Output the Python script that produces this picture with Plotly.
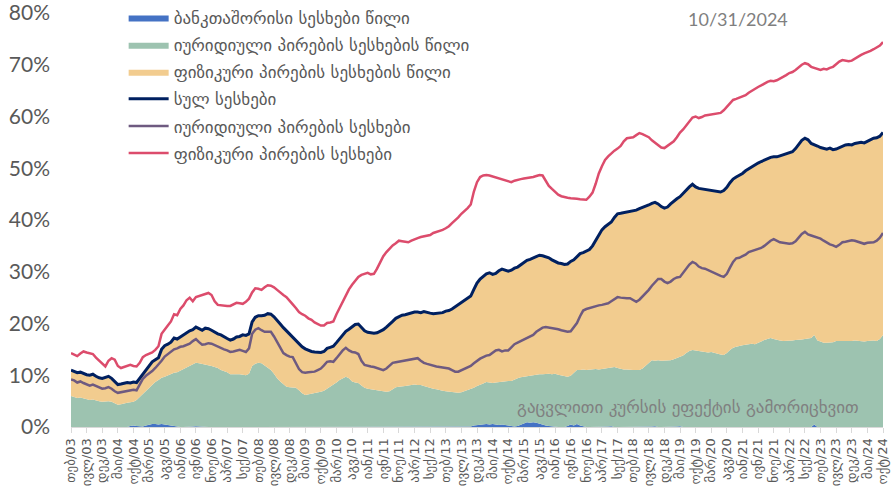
import plotly.graph_objects as go

month_abbr = ["იან", "თებ", "მარ", "აპრ", "მაი", "ივნ", "ივლ", "აგვ", "სექ", "ოქტ", "ნოე", "დეკ"]
# monthly categories Feb-2003 .. Oct-2024
months = []
for y in range(2003, 2025):
    for m in range(1, 13):
        if (y == 2003 and m < 2) or (y == 2024 and m > 10):
            continue
        months.append(f"{month_abbr[m-1]}/{str(y)[2:]}")

# share of interbank loans (blue area)
interbank_share = [
    0, 0, 0, 0, 0, 0, 0, 0, 0, 0, 0,
    0, 0, 0, 0, 0, 0, 0, 0, 0.2, 0.3, 0.2, 0.1,
    0.1, 0.3, 0.5, 0.6, 0.6, 0.5, 0.6, 0.5, 0.4, 0.3, 0.1, 0,
    0, 0, 0, 0, 0.1, 0.15, 0.1, 0, 0, 0, 0, 0,
    0, 0, 0, 0, 0, 0, 0, 0, 0, 0, 0, 0,
    0, 0, 0, 0, 0, 0, 0, 0, 0, 0, 0, 0,
    0, 0, 0, 0, 0, 0, 0, 0, 0, 0, 0, 0,
    0, 0, 0, 0, 0, 0, 0, 0, 0, 0, 0, 0,
    0, 0, 0, 0, 0, 0, 0, 0, 0, 0, 0, 0,
    0, 0, 0, 0, 0, 0, 0, 0, 0, 0, 0, 0,
    0, 0, 0, 0, 0, 0, 0, 0, 0, 0.1, 0.3, 0.4,
    0.5, 0.6, 0.6, 0.5, 0.6, 0.5, 0.4, 0.5, 0.4, 0.3, 0.2, 0.1,
    0.2, 0.4, 0.7, 0.9, 0.8, 0.9, 0.8, 0.6, 0.4, 0.3, 0.2, 0.1,
    0, 0, 0, 0, 0.2, 0.5, 0.3, 0.6, 0.3, 0.1, 0, 0,
    0, 0, 0, 0, 0, 0.1, 0.15, 0, 0, 0, 0, 0,
    0, 0, 0, 0, 0, 0, 0, 0.1, 0.15, 0, 0, 0,
    0, 0, 0, 0.1, 0.15, 0, 0, 0, 0, 0, 0, 0,
    0, 0, 0, 0, 0, 0, 0, 0, 0, 0, 0, 0,
    0, 0, 0, 0, 0, 0, 0, 0, 0, 0, 0, 0,
    0, 0, 0, 0, 0, 0, 0, 0, 0, 0, 0, 0.5,
    0, 0, 0, 0, 0, 0, 0, 0, 0, 0, 0, 0,
    0, 0, 0, 0, 0, 0, 0, 0, 0, 0,
]

# top of the legal-entity share area (green)
legal_share = [
    6.0, 5.8, 5.6, 5.7, 5.5, 5.3, 5.2, 5.3, 5.1, 5.0, 4.9,
    5.0, 5.0, 4.9, 4.6, 4.3, 4.4, 4.6, 4.7, 4.8, 4.9, 5.2, 5.8,
    6.5, 7.1, 7.7, 8.3, 8.7, 9.1, 9.5, 9.7, 10.0, 10.3, 10.5, 10.6,
    10.9, 11.2, 11.5, 11.8, 12.1, 12.4, 12.3, 12.2, 12.1, 12.0, 11.8, 11.6,
    11.4, 11.0, 10.8, 10.6, 10.2, 10.2, 10.3, 10.2, 10.1, 10.0, 10.3, 11.8,
    12.2, 12.4, 12.3, 11.9, 11.4, 11.0, 10.3, 9.4, 8.8, 8.2, 7.8, 7.7,
    7.7, 7.6, 7.1, 6.5, 6.2, 6.3, 6.5, 6.6, 6.6, 6.8, 7.0, 7.4,
    7.7, 8.1, 8.6, 9.1, 9.4, 9.7, 9.4, 8.8, 8.6, 8.5, 8.0, 7.6,
    7.4, 7.3, 7.2, 7.1, 7.0, 6.9, 6.8, 6.9, 7.3, 7.7, 7.8, 7.8,
    7.9, 8.0, 8.1, 8.2, 8.1, 8.1, 7.9, 7.7, 7.5, 7.4, 7.3, 7.1,
    7.0, 6.9, 6.8, 6.8, 6.7, 6.6, 6.7, 6.9, 7.1, 7.3, 7.6, 7.9,
    8.1, 8.4, 8.7, 8.6, 8.5, 8.6, 8.7, 8.8, 8.8, 8.9, 8.9, 9.2,
    9.4, 9.6, 9.7, 9.9, 10.0, 10.1, 10.1, 10.2, 10.2, 10.3, 10.3, 10.2,
    10.3, 10.1, 10.0, 9.8, 9.7, 9.9, 10.5, 11.0, 11.0, 11.1, 11.0, 11.1,
    11.1, 11.2, 11.1, 11.2, 11.3, 11.4, 11.5, 11.6, 11.4, 11.2, 11.1, 11.1,
    11.0, 11.0, 11.0, 11.0, 11.3, 11.9, 12.5, 12.9, 12.8, 12.9, 12.8, 12.8,
    12.8, 12.9, 13.1, 13.3, 13.5, 13.8, 14.3, 14.7, 14.9, 14.8, 14.6, 14.5,
    14.5, 14.4, 14.5, 14.3, 14.2, 14.0, 13.9, 14.3, 14.9, 15.3, 15.5, 15.7,
    15.8, 15.9, 16.0, 16.1, 16.0, 16.3, 16.5, 16.8, 17.0, 17.2, 17.0, 16.8,
    16.7, 16.6, 16.6, 16.7, 16.7, 16.8, 16.8, 16.9, 17.0, 17.1, 17.2, 17.8,
    16.7, 16.5, 16.3, 16.3, 16.3, 16.4, 16.6, 16.6, 16.5, 16.6, 16.6, 16.6,
    16.7, 16.6, 16.6, 16.5, 16.6, 16.7, 16.7, 16.6, 17.0, 17.8,
]

# total loans (navy line = top of the individuals' share area)
total_loans = [
    11.0, 10.8, 10.5, 10.6, 10.3, 10.1, 10.0, 10.2, 9.8, 9.5, 9.4,
    9.6, 9.8, 9.4, 8.7, 8.2, 8.3, 8.5, 8.6, 8.5, 8.7, 8.6, 9.4,
    10.4, 11.2, 12.0, 12.6, 13.0, 13.4, 15.0, 15.7, 16.0, 16.4, 17.2, 17.0,
    17.4, 17.8, 18.3, 18.6, 18.8, 19.3, 19.0, 18.7, 19.1, 19.0, 18.7, 18.3,
    18.0, 17.8, 17.4, 17.1, 16.8, 17.0, 17.4, 17.5, 17.8, 17.7, 18.0, 20.3,
    21.2, 21.5, 21.5, 21.6, 21.9, 21.8, 21.3, 20.7, 19.9, 19.2, 18.6, 17.9,
    17.3, 16.7, 16.1, 15.5, 15.1, 14.8, 14.6, 14.5, 14.5, 14.4, 14.6, 15.2,
    15.4, 15.6, 16.3, 17.1, 17.8, 18.5, 18.9, 19.4, 19.8, 19.9, 19.2, 18.6,
    18.3, 18.2, 18.1, 18.2, 18.5, 18.8, 19.3, 19.8, 20.4, 21.0, 21.3, 21.6,
    21.7, 21.9, 22.0, 22.2, 22.2, 22.1, 22.3, 22.1, 22.0, 21.9, 22.0, 22.0,
    22.1, 22.4, 22.5, 22.8, 23.2, 23.6, 24.0, 24.4, 24.8, 25.3, 26.6, 27.8,
    28.6, 29.2, 29.6, 29.8, 29.5, 29.7, 30.2, 30.5, 30.3, 30.1, 30.3, 30.7,
    30.9, 31.3, 31.8, 32.2, 32.4, 32.7, 33.0, 33.2, 33.1, 32.9, 32.7, 32.3,
    32.0, 31.7, 31.6, 31.4, 31.5, 32.0, 32.3, 32.9, 33.5, 33.7, 34.0, 34.3,
    35.0, 36.0, 37.2, 38.1, 38.7, 39.1, 39.6, 40.5, 41.2, 41.3, 41.4, 41.5,
    41.6, 41.8, 41.9, 42.2, 42.4, 42.7, 42.9, 43.2, 43.4, 43.1, 42.6, 42.3,
    42.5, 43.1, 43.7, 44.1, 44.5, 45.2, 45.8, 46.4, 46.9, 46.4, 46.1, 46.0,
    45.9, 45.7, 45.6, 45.5, 45.4, 45.4, 45.7, 46.3, 47.2, 47.9, 48.3, 48.6,
    49.0, 49.5, 49.9, 50.3, 50.6, 51.0, 51.3, 51.6, 51.8, 52.1, 52.2, 52.2,
    52.4, 52.6, 52.7, 52.9, 53.2, 53.8, 54.7, 55.4, 55.8, 55.5, 54.8, 54.6,
    54.3, 54.0, 53.8, 53.7, 53.9, 53.6, 53.7, 54.0, 54.3, 54.5, 54.6, 54.5,
    54.8, 54.9, 55.0, 54.9, 55.2, 55.5, 55.8, 55.9, 56.2, 56.9,
]

# legal entities' loans (purple line)
legal_loans = [
    9.2, 9.0, 8.6, 8.8, 8.5, 8.2, 8.0, 8.2, 7.9, 7.6, 7.4,
    7.5, 7.7, 7.4, 6.9, 6.6, 6.7, 6.9, 7.0, 7.0, 7.2, 7.1, 8.2,
    9.3, 9.9, 10.3, 10.8, 11.4, 12.0, 12.8, 13.6, 14.1, 14.5, 15.0, 15.2,
    15.5, 15.6, 15.8, 16.1, 16.6, 17.0, 16.4, 15.9, 16.0, 16.2, 16.1, 15.8,
    15.5, 15.3, 15.0, 14.8, 14.5, 14.6, 14.8, 14.9, 14.7, 14.5, 15.2, 18.0,
    18.8, 19.1, 18.7, 18.4, 18.4, 18.4, 17.5, 16.4, 15.3, 14.3, 13.9, 13.6,
    13.5, 12.4, 11.2, 10.6, 10.5, 10.6, 10.6, 10.7, 11.0, 11.3, 11.9, 12.6,
    12.7, 12.6, 13.3, 14.1, 14.8, 15.3, 14.8, 14.5, 14.4, 14.1, 12.8, 12.0,
    11.8, 11.7, 11.6, 11.4, 11.2, 11.0, 11.3, 11.9, 12.4, 12.5, 12.6, 12.7,
    12.9, 13.0, 13.1, 13.2, 13.3, 12.8, 12.4, 12.2, 12.0, 11.8, 11.7, 11.6,
    11.5, 11.4, 11.3, 11.0, 10.7, 10.7, 11.0, 11.3, 11.5, 11.8, 12.3, 12.8,
    13.2, 13.5, 13.8, 13.9, 14.3, 14.8, 14.9, 14.6, 14.8, 14.8, 15.4, 16.0,
    16.3, 16.6, 16.9, 17.2, 17.4, 17.8, 18.4, 18.8, 19.2, 19.3, 19.2, 19.1,
    19.1, 18.9, 18.7, 18.5, 18.4, 18.5, 19.2, 20.1, 21.4, 22.5, 22.8, 23.0,
    23.2, 23.3, 23.5, 23.6, 23.7, 23.9, 24.3, 24.7, 25.1, 25.0, 24.9, 24.9,
    24.9, 24.6, 24.2, 24.6, 25.2, 25.8, 26.5, 27.3, 28.0, 28.6, 28.6, 28.1,
    27.8, 28.1, 28.6, 28.9, 29.0, 29.8, 30.6, 31.4, 31.9, 31.6, 31.0, 30.7,
    30.6, 30.3, 30.0, 29.7, 29.4, 29.2, 29.0, 29.6, 30.8, 31.9, 32.6, 32.7,
    33.0, 33.3, 33.8, 34.0, 34.2, 34.5, 34.6, 35.0, 35.5, 36.0, 36.3, 36.0,
    35.7, 35.6, 35.5, 35.4, 35.5, 35.9, 36.6, 37.3, 37.7, 37.2, 37.0, 36.8,
    36.7, 36.4, 36.0, 35.6, 35.3, 35.1, 34.8, 35.2, 35.7, 35.8, 35.9, 36.1,
    36.0, 35.8, 35.6, 35.4, 35.6, 35.7, 35.7, 36.0, 36.6, 37.5,
]

# individuals' loans (pink line)
individual_loans = [
    14.3, 14.0, 13.7, 14.2, 14.6, 14.4, 14.2, 14.1, 13.4, 12.8, 12.2,
    11.7, 12.8, 13.3, 13.0, 11.8, 11.4, 11.6, 11.8, 12.0, 11.8, 11.7, 12.4,
    13.5, 13.9, 14.2, 14.4, 14.9, 15.6, 18.0, 18.9, 19.6, 20.4, 21.8, 21.6,
    22.8, 23.5, 24.5, 25.0, 24.3, 25.1, 25.3, 25.5, 25.7, 25.9, 25.5, 24.3,
    23.6, 23.5, 23.4, 23.4, 23.4, 23.7, 24.0, 23.9, 23.8, 24.2, 24.8, 26.0,
    26.8, 26.7, 26.5, 27.0, 27.4, 27.3, 27.0, 26.5, 25.9, 25.5, 25.1, 24.5,
    23.7, 23.0, 22.2, 21.8, 21.5, 21.0, 20.7, 20.2, 19.9, 19.6, 19.6, 20.1,
    20.2, 20.4, 21.8, 23.0, 24.2, 25.5, 26.6, 27.5, 28.3, 29.0, 29.4, 29.6,
    29.8, 29.5, 29.6, 30.6, 31.8, 33.0, 33.8, 34.5, 35.1, 35.5, 36.0, 35.9,
    35.8, 35.7, 36.0, 36.3, 36.5, 36.7, 36.8, 36.9, 37.1, 37.5, 37.7, 37.8,
    38.1, 38.4, 38.8, 39.4, 39.9, 40.5, 41.2, 41.7, 42.3, 43.0, 45.5, 47.3,
    48.3, 48.6, 48.7, 48.6, 48.4, 48.2, 48.1, 47.9, 47.7, 47.5, 47.3, 47.6,
    47.8, 47.9, 48.0, 48.1, 48.1, 48.3, 48.5, 48.7, 48.6, 47.6, 46.6, 46.0,
    45.4, 44.9, 44.6, 44.4, 44.3, 44.2, 44.2, 44.1, 44.0, 43.9, 43.9, 44.5,
    45.3, 47.0, 49.0, 50.4, 51.6, 52.3, 52.9, 53.4, 53.8, 54.3, 55.2, 55.8,
    55.9, 56.0, 56.4, 56.8, 56.6, 56.3, 56.0, 55.4, 54.9, 54.4, 54.0, 53.9,
    54.3, 54.7, 55.2, 56.0, 56.9, 57.5, 58.3, 59.1, 59.8, 60.0, 59.7, 59.9,
    60.2, 60.3, 60.4, 60.5, 60.6, 60.7, 61.2, 61.9, 62.6, 63.2, 63.4, 63.6,
    63.8, 64.1, 64.6, 65.0, 65.4, 65.7, 66.0, 66.4, 66.7, 66.9, 66.8, 67.0,
    67.3, 67.7, 68.0, 68.4, 68.6, 69.0, 69.6, 70.0, 70.3, 70.1, 69.6, 69.4,
    69.2, 69.0, 69.2, 69.1, 69.4, 69.6, 70.1, 70.6, 70.9, 70.8, 70.7, 70.8,
    71.2, 71.6, 71.9, 72.2, 72.4, 72.7, 73.0, 73.3, 73.7, 74.4,
]

for arr in (interbank_share, legal_share, total_loans, legal_loans, individual_loans):
    assert len(arr) == len(months), (len(arr), len(months))

tick_labels = months[::5]

names = [
    "ბანკთაშორისი სესხები წილი",
    "იურიდიული პირების სესხების წილი",
    "ფიზიკური პირების სესხების წილი",
    "სულ სესხები",
    "იურიდიული პირების სესხები",
    "ფიზიკური პირების სესხები",
]

GEO = "DejaVu Sans"
GRAY = "#595959"

fig = go.Figure()
fig.add_trace(go.Scatter(x=months, y=interbank_share, name=names[0], mode="lines",
                         line=dict(width=0, color="#4472C4"), fill="tozeroy",
                         fillcolor="#4472C4", legendgroup="a"))
fig.add_trace(go.Scatter(x=months, y=legal_share, name=names[1], mode="lines",
                         line=dict(width=0, color="#9DC3B0"), fill="tonexty",
                         fillcolor="#9DC3B0", legendgroup="b"))
fig.add_trace(go.Scatter(x=months, y=total_loans, name=names[2], mode="lines",
                         line=dict(width=0, color="#F2CC8F"), fill="tonexty",
                         fillcolor="#F2CC8F", legendgroup="c"))
fig.add_trace(go.Scatter(x=months, y=total_loans, name=names[3], mode="lines",
                         line=dict(width=3, color="#002060"), legendgroup="d"))
fig.add_trace(go.Scatter(x=months, y=legal_loans, name=names[4], mode="lines",
                         line=dict(width=2.5, color="#6E5A80"), legendgroup="e"))
fig.add_trace(go.Scatter(x=months, y=individual_loans, name=names[5], mode="lines",
                         line=dict(width=2.5, color="#DC4C6C"), legendgroup="f"))

fig.update_layout(
    width=896, height=500,
    margin=dict(l=71, r=13, t=13, b=73, autoexpand=False),
    paper_bgcolor="white", plot_bgcolor="white",
    showlegend=True,
    legend=dict(x=0.138, y=1.0, xref="container", yref="container",
                xanchor="left", yanchor="top",
                bgcolor="rgba(0,0,0,0)", tracegroupgap=2,
                font=dict(family=GEO, size=17, color=GRAY), itemwidth=40),
    xaxis=dict(type="category", range=[0, len(months) - 1], automargin=False,
               tickmode="array", tickvals=tick_labels, ticktext=tick_labels,
               tickangle=-90, tickfont=dict(family=GEO, size=13, color=GRAY),
               showline=True, linecolor="#D9D9D9", linewidth=1,
               ticks="outside", ticklen=5, tickcolor="#D9D9D9",
               showgrid=False, zeroline=False),
    yaxis=dict(range=[0, 80], dtick=10, ticksuffix="%", automargin=False,
               tickfont=dict(family="Lato", size=21, color=GRAY),
               showgrid=False, zeroline=False, showline=False,
               ticklabelstandoff=20, ticklabeloverflow="allow"),
    annotations=[
        dict(text="10/31/2024", x=0.821, y=0.985, xref="paper", yref="paper",
             xanchor="center", yanchor="middle",
             showarrow=False, font=dict(family="Lato", size=18, color="#7F7F7F")),
        dict(text="გაცვლითი კურსის ეფექტის გამორიცხვით", x=0.76, y=0.048,
             xref="paper", yref="paper", xanchor="center", yanchor="middle",
             showarrow=False, font=dict(family=GEO, size=17, color="#808080")),
    ],
)

# remove the browser's default 8px body margin so the figure fills the window
fig.write_html("out.html", config={"displayModeBar": False},
               post_script="document.body.style.margin='0';document.body.style.overflow='hidden';")
